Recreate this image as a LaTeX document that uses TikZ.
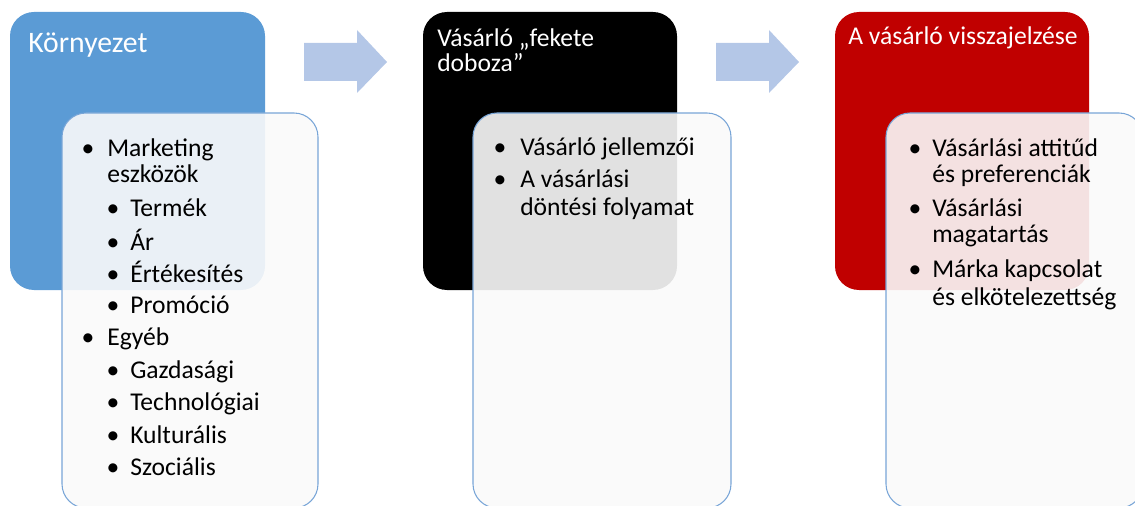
\documentclass[tikz,border=0pt]{standalone}
\usepackage{fontspec}
\setmainfont{Carlito}
\definecolor{hdrblue}{RGB}{91,155,213}
\definecolor{hdrred}{RGB}{192,0,0}
\definecolor{arrowblue}{RGB}{180,199,231}
\definecolor{edgeblue}{RGB}{120,165,215}
\tikzset{
 hdrbox/.style={rounded corners=18pt},
 listbox/.style={draw=edgeblue, line width=0.8pt, fill=white!98!black, fill opacity=0.9, rounded corners=18pt},
 hdrtext/.style={anchor=base west, text=white, inner sep=0pt, font=\fontsize{19.2}{23}\selectfont},
 itemtext/.style={anchor=base west, inner sep=0pt, font=\fontsize{19.2}{23}\selectfont},
 bul/.style={anchor=base, inner sep=0pt, font=\fontsize{19.2}{23}\selectfont},
 flowarrow/.style={fill=arrowblue}
}
\begin{document}
\begin{tikzpicture}[x=0.75pt,y=-0.75pt]
\useasboundingbox (0,0) rectangle (1135,506);
% header boxes
\fill[hdrbox,hdrblue] (10,12) rectangle (265,290);
\fill[hdrbox,black] (423,12) rectangle (677,290);
\fill[hdrbox,hdrred] (835,12) rectangle (1089,290);
% list boxes
\draw[listbox] (62,113) rectangle (318,508);
\draw[listbox] (473,113) rectangle (731,508);
\draw[listbox] (886,113) rectangle (1143,508);
% arrows
\fill[flowarrow] (304,43) -- (357,43) -- (357,30) -- (387,62) -- (357,93) -- (357,81) -- (304,81) -- cycle;
\fill[flowarrow] (716,43) -- (769,43) -- (769,30) -- (799,62) -- (769,93) -- (769,81) -- (716,81) -- cycle;
% headers
\node[hdrtext,font=\fontsize{22.3}{27}\selectfont] (h1) at (28,53) {Környezet};
\node[hdrtext] (h2a) at (437,47) {Vásárló „fekete};
\node[hdrtext] (h2b) at (437,72) {doboza”};
\node[hdrtext] (h3) at (848,45) {A vásárló visszajelzése};
% box 1
\node[bul] (b1a) at (88,157) {•};
\node[itemtext] (t1a) at (107,157) {Marketing};
\node[itemtext] (t1b) at (107,183) {eszközök};
\node[bul] (b1c) at (113,217) {•};
\node[itemtext] (t1c) at (130,217) {Termék};
\node[bul] (b1d) at (113,250) {•};
\node[itemtext] (t1d) at (130,250) {Ár};
\node[bul] (b1e) at (113,282) {•};
\node[itemtext] (t1e) at (130,282) {Értékesítés};
\node[bul] (b1f) at (113,313) {•};
\node[itemtext] (t1f) at (130,313) {Promóció};
\node[bul] (b1g) at (88,345) {•};
\node[itemtext] (t1g) at (107,345) {Egyéb};
\node[bul] (b1h) at (113,378) {•};
\node[itemtext] (t1h) at (130,378) {Gazdasági};
\node[bul] (b1i) at (113,410) {•};
\node[itemtext] (t1i) at (130,410) {Technológiai};
\node[bul] (b1j) at (113,443) {•};
\node[itemtext] (t1j) at (130,443) {Kulturális};
\node[bul] (b1k) at (113,475) {•};
\node[itemtext] (t1k) at (130,475) {Szociális};
% box 2
\node[bul] (b2a) at (500,156) {•};
\node[itemtext] (t2a) at (520,156) {Vásárló jellemzői};
\node[bul] (b2b) at (500,188) {•};
\node[itemtext] (t2b) at (520,188) {A vásárlási};
\node[itemtext] (t2c) at (520,215) {döntési folyamat};
% box 3
\node[bul] (b3a) at (915,157) {•};
\node[itemtext] (t3a) at (932,157) {Vásárlási attitűd};
\node[itemtext] (t3b) at (932,183) {és preferenciák};
\node[bul] (b3c) at (915,217) {•};
\node[itemtext] (t3c) at (932,217) {Vásárlási};
\node[itemtext] (t3d) at (932,243) {magatartás};
\node[bul] (b3e) at (915,277) {•};
\node[itemtext] (t3e) at (932,277) {Márka kapcsolat};
\node[itemtext] (t3f) at (932,305) {és elkötelezettség};
\end{tikzpicture}
\end{document}
